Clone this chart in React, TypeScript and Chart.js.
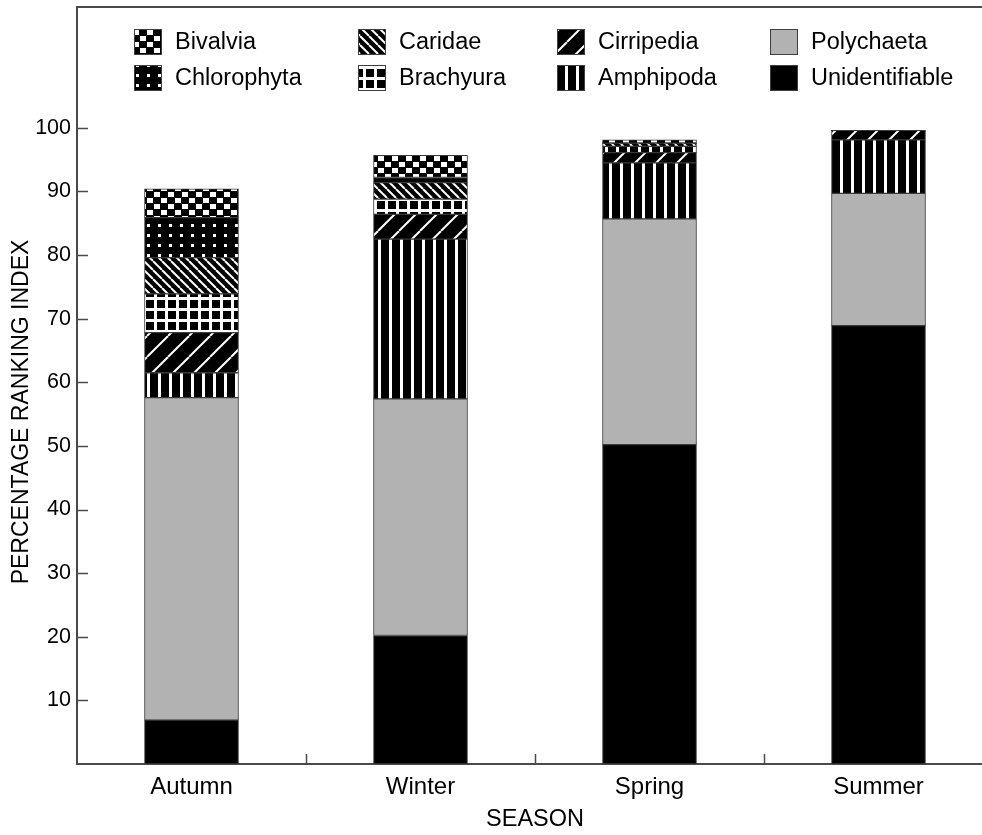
import React, { useEffect, useRef } from 'react';
import { Chart, registerables } from 'chart.js';

Chart.register(...registerables);

const seasons = ['Autumn', 'Winter', 'Spring', 'Summer'];
const unidentifiable = [6.9, 20.2, 50.2, 68.9];
const polychaeta = [50.7, 37.2, 35.5, 20.8];
const amphipoda = [3.9, 25.1, 8.8, 8.4];
const cirripedia = [6.3, 3.9, 1.6, 1.5];
const brachyura = [6.1, 2.4, 1.0, 0];
const caridae = [5.7, 2.6, 0.5, 0];
const chlorophyta = [6.3, 0.8, 0, 0];
const bivalvia = [4.5, 3.5, 0.5, 0];
const yTickValues = [10, 20, 30, 40, 50, 60, 70, 80, 90, 100];
const legendRows = [
  ['Bivalvia', 'Caridae', 'Cirripedia', 'Polychaeta'],
  ['Chlorophyta', 'Brachyura', 'Amphipoda', 'Unidentifiable'],
];
const yTitle = 'PERCENTAGE RANKING INDEX';
const xTitle = 'SEASON';

const FONT = '"Liberation Sans", Arial, Helvetica, sans-serif';
const AXIS = '#4a4a4a';

function tile(w: number, h: number, draw: (g: CanvasRenderingContext2D) => void) {
  const c = document.createElement('canvas');
  c.width = w;
  c.height = h;
  const g = c.getContext('2d')!;
  g.fillStyle = '#000';
  g.fillRect(0, 0, w, h);
  g.fillStyle = '#fff';
  g.strokeStyle = '#fff';
  draw(g);
  return c;
}

function makeFills(ctx: CanvasRenderingContext2D): Record<string, any> {
  const pat = (c: HTMLCanvasElement) => ctx.createPattern(c, 'repeat');
  const amph = tile(11, 11, (g) => g.fillRect(4, 0, 3, 11));
  const brach = tile(11, 11, (g) => {
    g.fillRect(0, 0, 11, 3);
    g.fillRect(0, 0, 3, 11);
  });
  const cirr = tile(21, 21, (g) => {
    g.lineWidth = 2;
    for (let k = -1; k <= 1; k++) {
      g.beginPath();
      g.moveTo(k * 21, 21);
      g.lineTo(k * 21 + 21, 0);
      g.stroke();
    }
  });
  const carid = tile(9, 9, (g) => {
    g.lineWidth = 2;
    for (let k = -1; k <= 1; k++) {
      g.beginPath();
      g.moveTo(k * 9, 0);
      g.lineTo(k * 9 + 9, 9);
      g.stroke();
    }
  });
  const chloro = tile(11, 10, (g) => g.fillRect(4, 4, 3, 3));
  const bival = tile(14, 12, (g) => {
    g.fillRect(0, 0, 6, 5);
    g.fillRect(7, 6, 6, 5);
  });
  return {
    Unidentifiable: '#000000',
    Polychaeta: '#b2b2b2',
    Amphipoda: pat(amph),
    Cirripedia: pat(cirr),
    Brachyura: pat(brach),
    Caridae: pat(carid),
    Chlorophyta: pat(chloro),
    Bivalvia: pat(bival),
  };
}

export default function App() {
  const ref = useRef<HTMLCanvasElement | null>(null);

  useEffect(() => {
    const canvas = ref.current!;
    const ctx = canvas.getContext('2d')!;
    const fills = makeFills(ctx);

    const series: [string, number[]][] = [
      ['Unidentifiable', unidentifiable],
      ['Polychaeta', polychaeta],
      ['Amphipoda', amphipoda],
      ['Cirripedia', cirripedia],
      ['Brachyura', brachyura],
      ['Caridae', caridae],
      ['Chlorophyta', chlorophyta],
      ['Bivalvia', bivalvia],
    ];

    const decor = {
      id: 'decor',
      afterDraw(chart: any) {
        const c = chart.ctx;
        const { left, right, top, bottom } = chart.chartArea;
        const xs = chart.scales.x;
        const ys = chart.scales.y;
        c.save();
        c.strokeStyle = AXIS;
        c.lineWidth = 2;
        c.beginPath();
        c.moveTo(left - 1, top);
        c.lineTo(right, top);
        c.lineTo(right, bottom);
        c.stroke();
        // y tick marks (inside)
        c.lineWidth = 1.5;
        for (const v of yTickValues) {
          const y = Math.round(ys.getPixelForValue(v)) + 0.5;
          c.beginPath();
          c.moveTo(left, y);
          c.lineTo(left + 11, y);
          c.stroke();
        }
        // x tick marks at category boundaries
        for (let i = 1; i < seasons.length; i++) {
          const x = Math.round((xs.getPixelForValue(i - 1) + xs.getPixelForValue(i)) / 2) + 0.5;
          c.beginPath();
          c.moveTo(x, bottom);
          c.lineTo(x, bottom - 10);
          c.stroke();
        }
        // y title
        c.fillStyle = '#000';
        c.font = `23px ${FONT}`;
        c.textAlign = 'center';
        c.textBaseline = 'middle';
        c.translate(22, 412);
        c.rotate(-Math.PI / 2);
        c.fillText(yTitle, 0, 0);
        c.restore();

        // legend
        c.save();
        const colX = [134, 358, 557, 770];
        const rowY = [42, 78];
        c.font = `23.5px ${FONT}`;
        c.textAlign = 'left';
        c.textBaseline = 'middle';
        legendRows.forEach((row, ri) => {
          row.forEach((name, ci) => {
            const bx = colX[ci];
            const by = rowY[ri] - 13;
            c.fillStyle = fills[name];
            c.fillRect(bx, by, 28, 26);
            c.strokeStyle = '#404040';
            c.lineWidth = 1;
            c.strokeRect(bx + 0.5, by + 0.5, 27, 25);
            c.fillStyle = '#000';
            c.fillText(name, bx + 41, rowY[ri] + 1);
          });
        });
        c.restore();
      },
    };

    const chart = new Chart(ctx, {
      type: 'bar',
      data: {
        labels: seasons,
        datasets: series.map(([name, vals]) => ({
          label: name,
          data: vals,
          backgroundColor: fills[name],
          borderColor: '#3a3a3a',
          borderWidth: (c: any) => (c.raw ? 1 : 0),
          borderSkipped: false,
          barThickness: 94,
        })),
      },
      options: {
        animation: false,
        responsive: false,
        devicePixelRatio: 1,
        layout: { padding: { top: 7, right: 7, left: 0, bottom: 0 } },
        plugins: { legend: { display: false }, tooltip: { enabled: false } },
        scales: {
          x: {
            stacked: true,
            grid: { display: false, drawTicks: false, drawOnChartArea: false },
            border: { display: true, color: AXIS, width: 2 },
            ticks: { color: '#000', font: { family: FONT, size: 24 }, padding: 9 },
            title: {
              display: true,
              text: xTitle,
              color: '#000',
              font: { family: FONT, size: 23.5 },
              padding: { top: 0, bottom: 1 },
            },
            afterFit: (s: any) => {
              s.height = 71;
              s.paddingLeft = 0;
              s.paddingRight = 0;
            },
          },
          y: {
            stacked: true,
            min: 0,
            max: 119,
            afterBuildTicks: (s: any) => {
              s.ticks = yTickValues.map((v) => ({ value: v }));
            },
            grid: { display: false, drawTicks: false, drawOnChartArea: false },
            border: { display: true, color: AXIS, width: 2 },
            ticks: { color: '#000', font: { family: FONT, size: 21.5 }, padding: 6 },
            afterFit: (s: any) => {
              s.width = 77;
              s.paddingTop = 0;
              s.paddingBottom = 0;
            },
          },
        },
      },
      plugins: [decor],
    });
    return () => chart.destroy();
  }, []);

  return (
    <div style={{ position: 'absolute', left: 0, top: 0, width: 982, height: 835, overflow: 'hidden', background: '#fff' }}>
      <canvas ref={ref} width={1000} height={835} style={{ display: 'block' }} />
    </div>
  );
}
